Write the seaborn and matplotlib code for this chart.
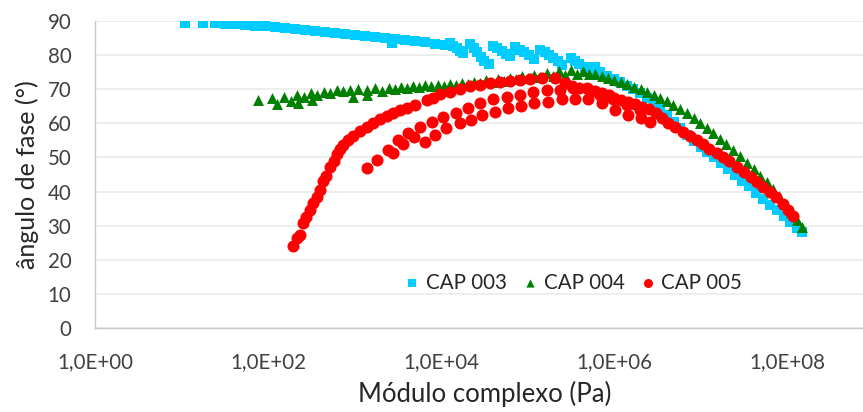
import numpy as np
import pandas as pd
import matplotlib
matplotlib.use("Agg")
import matplotlib.pyplot as plt
import seaborn as sns

# ---- data: log10(complex modulus, Pa) and phase angle (deg) ----
cap003_logx = [1.04, 1.25, 1.39, 1.50, 1.62, 1.73, 1.85, 1.97, 2.08, 2.20, 2.31, 2.43,
               2.54, 2.66, 2.77, 2.89, 3.01, 3.12, 3.24, 3.35, 3.43, 3.47, 3.58, 3.70,
               3.82, 3.93, 4.05,
               4.10, 4.14, 4.18, 4.22, 4.26,
               4.33, 4.38, 4.42, 4.46, 4.50, 4.55,
               4.60, 4.65, 4.70, 4.75, 4.80,
               4.86, 4.91, 4.96, 5.02, 5.08,
               5.14, 5.20, 5.25, 5.30, 5.35, 5.40,
               5.50, 5.55, 5.60, 5.66, 5.72, 5.78,
               5.84, 5.92, 6.00, 6.07, 6.15, 6.22, 6.30, 6.38, 6.46, 6.53, 6.61, 6.69,
               6.76, 6.84, 6.92, 7.00, 7.08, 7.16, 7.24, 7.32, 7.40, 7.48, 7.56, 7.64,
               7.72, 7.80, 7.88, 7.96, 8.04, 8.12, 8.17]
cap003_y = [89.4, 89.5, 89.4, 89.2, 89.0, 88.8, 88.6, 88.4, 88.2, 88.0, 87.7, 87.4,
            87.1, 86.8, 86.5, 86.2, 85.9, 85.6, 85.3, 85.0, 83.6, 84.7, 84.4, 84.0,
            83.7, 83.4, 83.0,
            83.5, 82.8, 82.0, 81.2, 80.5,
            83.2, 82.0, 80.8, 79.5, 78.3, 77.5,
            82.8, 82.0, 81.2, 80.4, 79.6,
            82.3, 81.5, 80.8, 80.0, 78.8,
            81.5, 80.8, 80.0, 79.2, 78.2, 77.0,
            79.2, 78.2, 77.4, 76.5, 75.5, 76.5,
            75.0, 74.0, 73.0, 72.0, 71.0, 70.0, 69.0, 67.5, 66.0, 64.5, 62.5, 60.5,
            58.5, 56.5, 54.8, 53.2, 51.5, 50.0, 48.3, 46.6, 44.9, 43.2, 41.5, 39.7,
            37.9, 36.2, 34.5, 32.8, 31.1, 29.4, 28.2]

cap004_logx = [1.88, 2.05, 2.10, 2.18, 2.27, 2.34, 2.35, 2.42, 2.50, 2.51, 2.57, 2.65,
               2.72, 2.80, 2.87, 2.95, 2.98, 3.04, 3.14, 3.14, 3.24, 3.32,
               3.40, 3.47, 3.54, 3.61, 3.68, 3.75, 3.82, 3.89, 3.96, 4.03, 4.10, 4.17,
               4.24, 4.31, 4.38, 4.45, 4.52, 4.59, 4.66, 4.73, 4.80, 4.87, 4.94, 5.01,
               5.08, 5.15, 5.22, 5.29, 5.36, 5.43, 5.50, 5.57, 5.64, 5.71, 5.78,
               5.86, 5.93, 6.00, 6.08, 6.15, 6.23, 6.31, 6.38, 6.46, 6.53, 6.61, 6.68,
               6.76, 6.84, 6.92, 6.99, 7.07, 7.14, 7.22, 7.30, 7.38, 7.46, 7.54, 7.62,
               7.69, 7.77, 7.84, 7.91, 7.98, 8.05, 8.11, 8.17]
cap004_y = [66.9, 67.4, 65.7, 67.7, 66.6, 68.3, 66.0, 67.7, 68.9, 66.8, 68.3, 69.2,
            68.9, 69.8, 69.4, 69.8, 67.7, 70.1, 69.8, 68.3, 70.4, 69.4,
            70.3, 70.0, 70.6, 70.3, 70.9, 70.6, 71.1, 70.8, 71.3, 71.0, 71.6, 71.3,
            71.9, 71.5, 72.2, 71.8, 72.6, 72.2, 73.0, 72.5, 73.4, 72.9, 73.9, 73.3,
            74.3, 73.6, 74.8, 74.0, 75.2, 74.3, 75.6, 74.6, 75.2, 74.4, 74.5,
            74.0, 73.4, 72.8, 72.1, 71.4, 70.7, 70.0, 69.2, 68.4, 67.5, 66.5, 65.4,
            64.2, 62.9, 61.6, 60.2, 58.7, 57.1, 55.4, 53.8, 52.2, 50.4, 48.5, 46.6,
            44.7, 42.7, 40.7, 38.6, 36.4, 34.0, 31.8, 29.6]

cap005_logx = [2.29, 2.34, 2.37, 2.40, 2.44, 2.49, 2.52, 2.57, 2.60, 2.64, 2.67, 2.72,
               2.76, 2.80, 2.83, 2.87, 2.92, 2.98, 3.06, 3.14, 3.21, 3.29, 3.37, 3.45,
               3.53, 3.61, 3.70, 3.84, 3.91, 3.99, 4.10, 4.22, 4.34, 4.45, 4.57, 4.68,
               4.80, 4.91, 5.03, 5.17, 5.32,
               3.14, 3.26, 3.39, 3.45, 3.50, 3.56, 3.62, 3.69, 3.76, 3.82, 3.90, 3.93,
               4.02, 4.06, 4.17, 4.22, 4.31, 4.35, 4.45, 4.47, 4.60, 4.62, 4.76, 4.77,
               4.91, 4.92, 5.06, 5.08, 5.23, 5.24, 5.38, 5.40, 5.53, 5.55, 5.69, 5.70,
               5.84, 5.86, 5.99, 6.01, 6.15, 6.16, 6.30, 6.31, 6.42,
               5.43, 5.52, 5.60, 5.70, 5.78, 5.86, 5.94, 6.00, 6.08, 6.16, 6.24, 6.32,
               6.40, 6.48, 6.56, 6.63, 6.71, 6.80, 6.88, 6.96, 7.03, 7.10, 7.19, 7.26,
               7.33, 7.42, 7.50, 7.58, 7.65, 7.72, 7.80, 7.87, 7.95, 8.01, 8.07]
cap005_y = [24.0, 26.5, 27.3, 30.8, 32.5, 34.5, 36.5, 38.4, 40.5, 43.0, 44.5, 47.2,
            49.0, 51.0, 52.5, 53.7, 55.0, 56.3, 57.8, 59.0, 60.0, 61.2, 62.2, 63.0,
            63.8, 64.6, 65.5, 66.8, 67.5, 68.5, 69.3, 70.2, 70.8, 71.3, 71.8, 72.2,
            72.5, 72.8, 73.0, 73.2, 73.3,
            46.8, 49.3, 52.2, 51.3, 55.0, 54.0, 57.2, 56.0, 59.0, 54.5, 60.4, 56.6,
            61.9, 58.6, 63.0, 60.0, 64.5, 61.0, 66.0, 62.3, 67.0, 63.3, 67.7, 64.5,
            68.3, 65.0, 69.2, 66.0, 69.8, 66.3, 69.8, 67.0, 70.5, 67.0, 70.5, 67.2,
            68.3, 66.0, 67.0, 64.0, 65.5, 62.5, 64.0, 61.5, 60.5,
            71.8, 70.8, 70.5, 70.0, 69.6, 69.0, 68.2, 67.5, 66.9, 66.2, 65.6, 64.9,
            64.2, 63.0, 61.5, 60.0, 58.8, 57.5, 56.2, 55.0, 53.8, 52.6, 51.2, 50.2,
            49.0, 47.2, 45.8, 44.4, 42.8, 41.3, 40.0, 38.3, 36.3, 34.6, 32.9]

series_names = ["CAP 003", "CAP 004", "CAP 005"]
series_colors = ["#00CCFF", "#008000", "#FF0000"]
series_markers = ["s", "^", "o"]
x_ticks = [1e0, 1e2, 1e4, 1e6, 1e8]
x_tick_labels = ["1,0E+00", "1,0E+02", "1,0E+04", "1,0E+06", "1,0E+08"]
y_ticks = list(range(0, 91, 10))

frames = []
for name, lx, yy in zip(series_names,
                        [cap003_logx, cap004_logx, cap005_logx],
                        [cap003_y, cap004_y, cap005_y]):
    frames.append(pd.DataFrame({"x": np.power(10.0, lx), "y": yy, "serie": name}))
df = pd.concat(frames, ignore_index=True)

sns.set_theme(style="white")
plt.rcParams["font.family"] = ["Lato", "DejaVu Sans"]

fig = plt.figure(figsize=(8.63, 4.12), dpi=100)
ax = fig.add_axes([95 / 863, 1 - 328 / 412, (873.5 - 95) / 863, (328 - 21) / 412])

sizes = {"CAP 003": 58, "CAP 004": 62, "CAP 005": 75}
for name, col, mk in zip(series_names, series_colors, series_markers):
    sub = df[df["serie"] == name]
    sns.scatterplot(data=sub, x="x", y="y", ax=ax, color=col, marker=mk,
                    s=sizes[name], linewidth=0, label=name, zorder=3)

ax.set_xscale("log")
ax.set_xlim(1, 1e9)
ax.set_ylim(0, 90)
ax.set_xticks(x_ticks)
ax.set_xticklabels(x_tick_labels)
ax.minorticks_off()
ax.set_yticks(y_ticks)
ax.tick_params(axis="both", labelsize=14.8, length=0)
ax.tick_params(axis="y", pad=17)
ax.tick_params(axis="x", pad=17)
for lab in ax.get_xticklabels() + ax.get_yticklabels():
    lab.set_color("#404040")
ax.yaxis.grid(True, color="#EBEBEB", linewidth=1.2, zorder=0)
ax.xaxis.grid(False)
for side in ["top", "right"]:
    ax.spines[side].set_visible(False)
for side in ["left", "bottom"]:
    ax.spines[side].set_color("#C8C8C8")
    ax.spines[side].set_linewidth(1)

ax.set_xlabel("Módulo complexo (Pa)", fontsize=18.5, color="#262626", labelpad=7)
ax.set_ylabel("ângulo de fase (°)", fontsize=18, color="#262626", labelpad=6)

leg = ax.legend(loc="center", bbox_to_anchor=(0.613, 0.147), ncol=3, frameon=False,
                fontsize=14.8, handletextpad=0.15, columnspacing=0.65, markerscale=0.75,
                borderaxespad=0, handlelength=1.0)
for t in leg.get_texts():
    t.set_color("#262626")

fig.savefig("out.png", dpi=100)
